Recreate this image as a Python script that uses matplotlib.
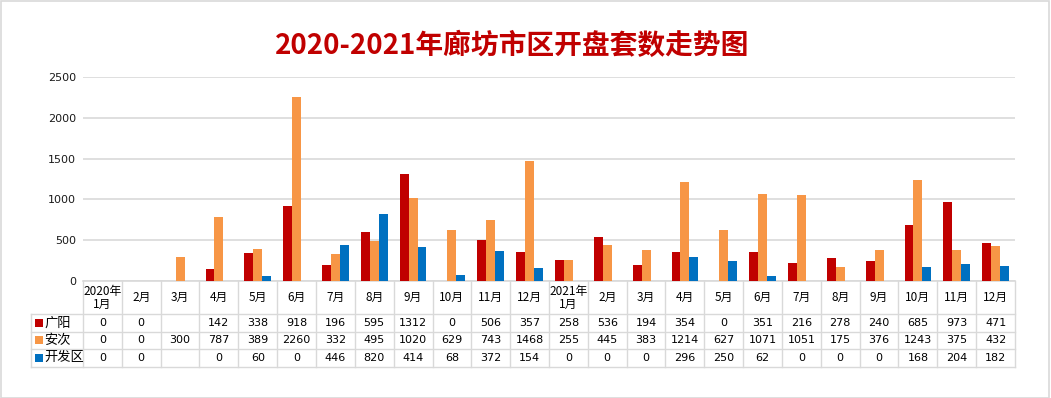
import numpy as np
import matplotlib
matplotlib.use("Agg")
import matplotlib.pyplot as plt
from matplotlib.patches import Rectangle

plt.rcParams['font.family'] = ['Noto Sans CJK SC', 'DejaVu Sans']

months = ["2020年\n1月", "2月", "3月", "4月", "5月", "6月", "7月", "8月", "9月", "10月", "11月", "12月",
          "2021年\n1月", "2月", "3月", "4月", "5月", "6月", "7月", "8月", "9月", "10月", "11月", "12月"]
series_names = ["广阳", "安次", "开发区"]
guangyang = [0, 0, np.nan, 142, 338, 918, 196, 595, 1312, 0, 506, 357,
             258, 536, 194, 354, 0, 351, 216, 278, 240, 685, 973, 471]
anci = [0, 0, 300, 787, 389, 2260, 332, 495, 1020, 629, 743, 1468,
        255, 445, 383, 1214, 627, 1071, 1051, 175, 376, 1243, 375, 432]
kaifaqu = [0, 0, np.nan, 0, 60, 0, 446, 820, 414, 68, 372, 154,
           0, 0, 0, 296, 250, 62, 0, 0, 0, 168, 204, 182]
colors = ["#C00000", "#F79646", "#0070C0"]
yticks = [0, 500, 1000, 1500, 2000, 2500]

W, H = 1051, 398
fig = plt.figure(figsize=(W / 100, H / 100), dpi=100)

def fx(px):
    return px / W

def fy(py):
    return 1 - py / H

# border
fig.patches.append(Rectangle((0.0005, 0.001), 0.998, 0.997, transform=fig.transFigure,
                             fill=False, edgecolor="#D9D9D9", linewidth=1.2))

x0, x1 = 83, 1015
y_top, y_bot = 77, 281
ax = fig.add_axes([fx(x0), fy(y_bot), fx(x1 - x0), (y_bot - y_top) / H])

n = len(months)
x = np.arange(n)
bw = 0.23
data = [guangyang, anci, kaifaqu]
for i, (vals, c) in enumerate(zip(data, colors)):
    ax.bar(x + (i - 1) * bw, vals, width=bw, color=c, zorder=3)

ax.set_xlim(-0.5, n - 0.5)
ax.set_ylim(0, 2500)
ax.set_yticks(yticks)
ax.set_yticklabels([str(v) for v in yticks], fontsize=8, color="#1a1a1a", family="DejaVu Sans")
ax.tick_params(axis='y', length=0, pad=5)
ax.set_xticks([])
ax.grid(axis='y', color="#D9D9D9", linewidth=1.2, zorder=0)
for s in ["top", "right", "left"]:
    ax.spines[s].set_visible(False)
ax.spines["bottom"].set_color("#D9D9D9")
ax.spines["bottom"].set_linewidth(1.2)

# title
fig.text(fx(512), fy(46), "2020-2021年廊坊市区开盘套数走势图", ha="center", va="center",
         fontsize=20, fontweight="bold", color="#C00000")

# data table
trans = ax.get_xaxis_transform()
row_lines = [314, 331.5, 349, 366.5]
gc = "#D9D9D9"

def ay(py):
    return (y_bot - py) / (y_bot - y_top)

label_left = 31
for k in range(n + 1):
    ax.plot([k - 0.5, k - 0.5], [ay(y_bot), ay(row_lines[-1])], transform=trans,
            color=gc, linewidth=1, clip_on=False)
for ry in row_lines:
    fig.add_artist(plt.Line2D([fx(label_left), fx(x1)], [fy(ry), fy(ry)],
                              transform=fig.transFigure, color=gc, linewidth=1))
fig.add_artist(plt.Line2D([fx(label_left), fx(label_left)], [fy(row_lines[0]), fy(row_lines[-1])],
                          transform=fig.transFigure, color=gc, linewidth=1))

for k, m in enumerate(months):
    ax.text(k, ay((y_bot + row_lines[0]) / 2), m, transform=trans, ha="center", va="center",
            fontsize=8.5, color="black", linespacing=1.0, clip_on=False)

for r, (name, vals, c) in enumerate(zip(series_names, data, colors)):
    cy = (row_lines[r] + row_lines[r + 1]) / 2
    fig.patches.append(Rectangle((fx(35), fy(cy + 4)), fx(8), 8 / H, transform=fig.transFigure,
                                 facecolor=c, edgecolor="none"))
    fig.text(fx(44), fy(cy), name, ha="left", va="center", fontsize=9.5, color="black")
    for k, v in enumerate(vals):
        if np.isnan(v):
            continue
        ax.text(k, ay(cy), str(int(v)), transform=trans, ha="center", va="center",
                fontsize=8, color="black", family="DejaVu Sans", clip_on=False)

fig.savefig("out.png", dpi=100)
